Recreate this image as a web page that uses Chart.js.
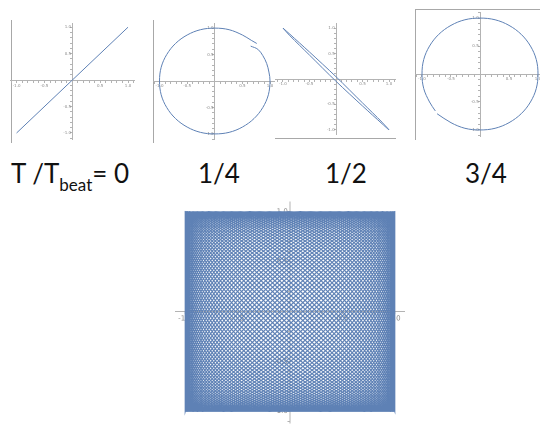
<!DOCTYPE html>
<html>
<head>
<meta charset="utf-8">
<script src="https://cdn.jsdelivr.net/npm/chart.js@4.4.1/dist/chart.umd.min.js"></script>
<style>
  body { margin: 0; width: 540px; height: 428px; overflow: hidden; background: #fff; position: relative; font-family: Lato, "Open Sans", sans-serif; }
  canvas { position: absolute; }
  .frame { position: absolute; background: #a8a8a8; }
  .lbl { position: absolute; top: 160px; font-size: 26px; line-height: 26px; color: #111; white-space: nowrap; }
  .sub { font-size: 17px; position: relative; top: 8px; }
</style>
</head>
<body>
<div class="frame" style="left:11px;top:20px;width:1px;height:123px"></div>
<div class="frame" style="left:153px;top:20px;width:1px;height:123px"></div>
<div class="frame" style="left:275px;top:138px;width:121px;height:1px"></div>
<div class="frame" style="left:415px;top:9px;width:125px;height:1px"></div>
<div class="frame" style="left:415px;top:9px;width:1px;height:131px"></div>

<canvas id="p0"></canvas>
<canvas id="p1"></canvas>
<canvas id="p2"></canvas>
<canvas id="p3"></canvas>
<canvas id="pBeat"></canvas>

<div class="lbl" id="l0" style="left:11px"></div>
<div class="lbl" id="l1" style="left:198px"></div>
<div class="lbl" id="l2" style="left:325px"></div>
<div class="lbl" id="l3" style="left:465px"></div>

<script>
// T/Tbeat values shown under the four small plots
const beatLabels = ["0", "1/4", "1/2", "3/4"];
const majorTicks = [-1, -0.5, 0.5, 1];

// T/Tbeat = 0 : in phase, straight diagonal
const zeroX = [-1, 1];
const zeroY = [-1, 1];

// T/Tbeat = 1/4 : circle, small gap up right
const quarterX = [0.65, 0.78, 0.87, 0.94, 0.98, 1, 0.97, 0.87, 0.71, 0.5, 0.26, 0, -0.26, -0.5, -0.71, -0.87, -0.97, -1,
  -0.97, -0.87, -0.71, -0.5, -0.26, 0, 0.26, 0.5, 0.66, 0.76];
const quarterY = [0.66, 0.6, 0.48, 0.33, 0.17, 0, -0.26, -0.5, -0.71, -0.87, -0.97, -1, -0.97, -0.87, -0.71, -0.5, -0.26, 0,
  0.26, 0.5, 0.71, 0.87, 0.97, 1, 0.97, 0.87, 0.77, 0.71];

// T/Tbeat = 1/2 : anti-phase, very thin ellipse
const halfX = [-1, -0.87, -0.5, 0, 0.5, 0.87, 1, 0.87, 0.5, 0, -0.5, -0.87, -1];
const halfY = [1, 0.88, 0.53, 0.045, -0.47, -0.85, -1, -0.88, -0.53, -0.045, 0.47, 0.85, 1];

// T/Tbeat = 3/4 : circle, small gap down left
const threeQX = [-0.74, -0.5, -0.26, 0, 0.26, 0.5, 0.71, 0.87, 0.97, 1, 0.97, 0.87, 0.71, 0.5, 0.26, 0, -0.26, -0.5, -0.71,
  -0.87, -0.97, -1, -0.97, -0.87, -0.77];
const threeQY = [-0.71, -0.87, -0.97, -1, -0.97, -0.87, -0.71, -0.5, -0.26, 0, 0.26, 0.5, 0.71, 0.87, 0.97, 1, 0.97, 0.87, 0.71,
  0.5, 0.26, 0, -0.26, -0.5, -0.66];

// whole beat period: the two oscillator frequencies and the start phase of y
const beatFreqs = [140, 141];
const beatPhase = Math.PI / 280;

const blue = "#5e81b5";
const axisGrey = "#b3b3b3";

const tickLabel = (v) => majorTicks.some(m => Math.abs(m - v) < 1e-6) ? v.toFixed(1) : "";

function axis(min, max, pos, horizontal, fontSize) {
  return {
    type: "linear", min: min, max: max, position: pos, z: 1,
    afterFit: (s) => { if (horizontal) s.height = 0; else s.width = 0; },
    border: { color: axisGrey, width: 1 },
    grid: { drawOnChartArea: false, tickLength: 2, color: axisGrey },
    ticks: {
      stepSize: 0.1, autoSkip: false, includeBounds: false, maxRotation: 0,
      color: "#8a8a8a", padding: 1,
      font: { size: fontSize, family: "DejaVu Sans" },
      callback: (v) => { const t = tickLabel(v); return horizontal || t === "" ? t : t + " "; }
    }
  };
}

// box = [left, top, right, bottom] px, centre = pixel of (0,0), unit = px per 1.0
function panel(id, box, centre, unit, pts, opts) {
  const cv = document.getElementById(id);
  cv.width = box[2] - box[0];
  cv.height = box[3] - box[1];
  cv.style.left = box[0] + "px";
  cv.style.top = box[1] + "px";
  const xMin = (box[0] - centre[0]) / unit[0], xMax = (box[2] - centre[0]) / unit[0];
  const yMax = (centre[1] - box[1]) / unit[1], yMin = (centre[1] - box[3]) / unit[1];

  new Chart(cv.getContext("2d"), {
    type: "scatter",
    data: {
      datasets: [{
        data: pts,
        showLine: true,
        borderColor: blue,
        borderWidth: opts.width,
        tension: opts.tension,
        pointRadius: 0,
        pointHoverRadius: 0
      }]
    },
    options: {
      responsive: false,
      devicePixelRatio: opts.dpr || 1,
      animation: false,
      events: [],
      parsing: false,
      layout: { padding: 0 },
      plugins: { legend: { display: false }, tooltip: { enabled: false } },
      scales: {
        x: axis(xMin, xMax, { y: 0 }, true, opts.font),
        y: axis(yMin, yMax, { x: 0 }, false, opts.font)
      }
    }
  });
}

const toPts = (xs, ys) => xs.map((x, i) => ({ x: x, y: ys[i] }));

panel("p0", [10, 20, 135, 143], [72, 80], [56, 56], toPts(zeroX, zeroY), { width: 1, tension: 0, font: 4 });
panel("p1", [153, 20, 275, 143], [214.5, 81], [55.5, 56], toPts(quarterX, quarterY), { width: 1, tension: 0.35, font: 4 });
panel("p2", [275, 20, 396, 138], [336, 79], [53, 54], toPts(halfX, halfY), { width: 1, tension: 0.3, font: 4 });
panel("p3", [415, 9, 548, 140], [480, 74], [58, 59], toPts(threeQX, threeQY), { width: 1, tension: 0.35, font: 4 });

// full beat: x = sin(f1 t), y = sin(f2 t + phase)
const beatPts = [];
const steps = beatFreqs[0] * 64;
for (let i = 0; i <= steps; i++) {
  const t = 2 * Math.PI * i / steps;
  beatPts.push({ x: Math.sin(beatFreqs[0] * t), y: Math.sin(beatFreqs[1] * t + beatPhase) });
}
panel("pBeat", [175, 197, 405, 428], [290, 311.5], [105, 104.5], beatPts, { width: 1.2, tension: 0, font: 7, dpr: 2 });

document.getElementById("l0").innerHTML = 'T /T<span class="sub">beat</span>= ' + beatLabels[0];
document.getElementById("l1").textContent = beatLabels[1];
document.getElementById("l2").textContent = beatLabels[2];
document.getElementById("l3").textContent = beatLabels[3];
</script>
</body>
</html>
